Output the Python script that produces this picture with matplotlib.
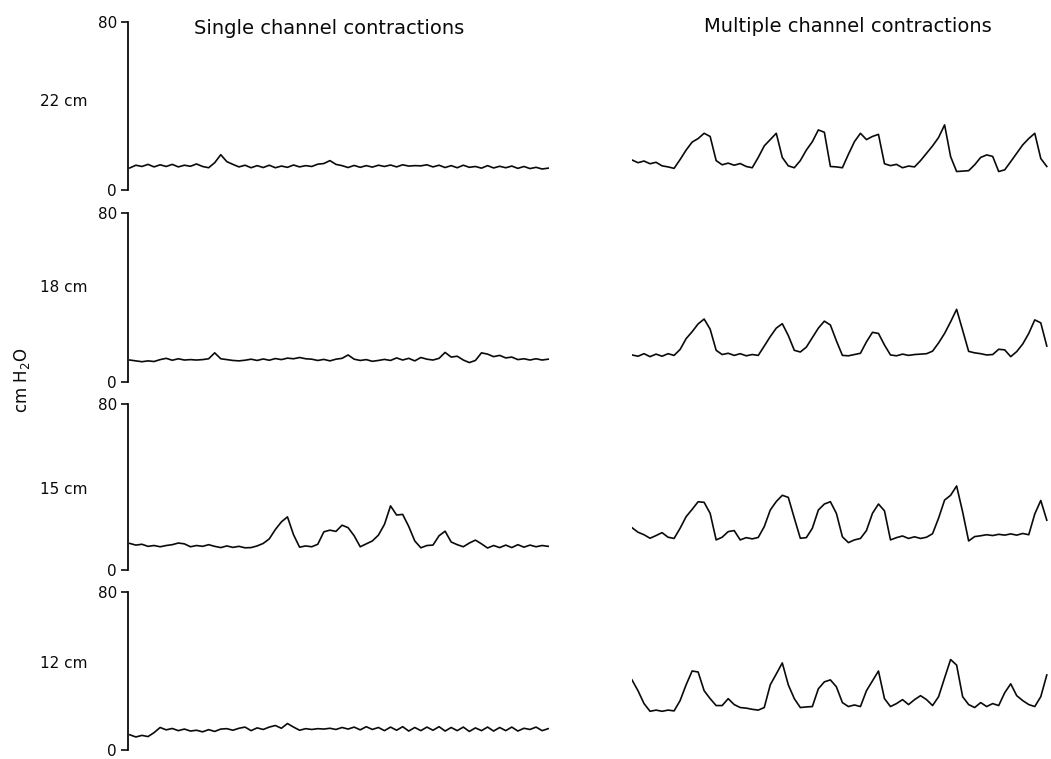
import numpy as np
import matplotlib.pyplot as plt

plt.rcParams['font.family'] = 'DejaVu Sans'
plt.rcParams['mathtext.default'] = 'regular'

# channel depth labels (top to bottom)
channels = ['22 cm', '18 cm', '15 cm', '12 cm']

# pressure traces, cm H2O, one value per sample (left: single channel contractions)
single_22 = [10.5, 11.8, 11.2, 12.2, 11.0, 12.0, 11.2, 12.2, 11.0, 11.8,
             11.3, 12.4, 11.2, 10.6, 13.0, 16.8, 13.5, 12.2, 11.0, 11.8,
             10.6, 11.6, 10.7, 11.8, 10.6, 11.4, 10.8, 11.9, 11.0, 11.6,
             11.2, 12.3, 12.6, 14.0, 12.2, 11.6, 10.7, 11.7, 10.8, 11.6,
             10.9, 11.8, 11.2, 11.9, 11.0, 12.0, 11.4, 11.6, 11.5, 12.0,
             11.0, 11.8, 10.7, 11.6, 10.6, 11.8, 10.8, 11.2, 10.4, 11.6,
             10.5, 11.3, 10.6, 11.4, 10.3, 11.2, 10.2, 10.8, 10.0, 10.4]
single_18 = [10.4, 10.0, 9.6, 10.0, 9.7, 10.6, 11.2, 10.3, 11.0, 10.4,
             10.6, 10.4, 10.6, 11.0, 13.8, 11.0, 10.6, 10.2, 10.0, 10.3,
             10.8, 10.2, 10.9, 10.3, 11.1, 10.6, 11.3, 11.0, 11.6, 11.0,
             10.8, 10.2, 10.7, 10.0, 10.8, 11.2, 12.8, 10.8, 10.2, 10.6,
             9.8, 10.2, 10.7, 10.2, 11.4, 10.4, 11.2, 10.0, 11.6, 10.8,
             10.4, 11.2, 14.0, 11.8, 12.2, 10.4, 9.2, 10.2, 13.8, 13.2,
             12.0, 12.6, 11.4, 11.8, 10.6, 11.0, 10.4, 11.0, 10.4, 10.8]
single_15 = [12.8, 12.0, 12.4, 11.4, 11.8, 11.2, 11.8, 12.2, 13.0, 12.6,
             11.2, 11.8, 11.4, 12.2, 11.4, 10.8, 11.6, 10.9, 11.4, 10.7,
             10.8, 11.6, 12.8, 15.0, 19.5, 23.2, 25.6, 17.0, 11.0, 11.6,
             11.2, 12.4, 18.4, 19.2, 18.6, 21.6, 20.4, 16.5, 11.2, 12.6,
             14.0, 16.8, 22.0, 30.9, 26.5, 26.8, 21.0, 14.0, 10.7, 11.8,
             12.0, 16.5, 18.7, 13.5, 12.2, 11.2, 13.0, 14.4, 12.6, 10.6,
             11.8, 10.8, 12.0, 10.8, 12.2, 11.0, 12.0, 11.2, 11.8, 11.4]
single_12 = [7.7, 6.6, 7.4, 6.8, 8.8, 11.4, 10.2, 10.9, 9.8, 10.6,
             9.6, 10.0, 9.2, 10.3, 9.4, 10.6, 10.8, 10.0, 11.0, 11.6,
             9.8, 11.2, 10.4, 11.6, 12.4, 11.0, 13.4, 11.6, 10.0, 10.8,
             10.4, 10.8, 10.6, 11.0, 10.4, 11.4, 10.6, 11.6, 10.2, 11.8,
             10.4, 11.4, 9.8, 11.6, 10.0, 11.8, 9.6, 11.4, 9.8, 11.6,
             10.0, 11.8, 9.6, 11.4, 9.8, 11.6, 9.4, 11.2, 9.8, 11.6,
             9.6, 11.4, 9.8, 11.6, 9.6, 11.0, 10.4, 11.6, 9.8, 10.8]

# right: multiple channel contractions
multi_22 = [14.3, 13.0, 13.8, 12.5, 13.2, 11.5, 11.0, 10.3, 14.5, 19.0,
            22.8, 24.5, 27.0, 25.5, 14.0, 12.0, 12.8, 11.8, 12.6, 11.2,
            10.6, 15.5, 21.0, 24.0, 27.0, 15.5, 11.5, 10.6, 14.0, 19.0,
            23.0, 28.6, 27.5, 11.2, 11.0, 10.6, 17.0, 23.0, 27.0, 24.0,
            25.5, 26.5, 12.5, 11.6, 12.2, 10.6, 11.4, 11.0, 14.0, 17.5,
            21.0, 25.0, 31.0, 15.9, 8.8, 9.0, 9.2, 12.0, 15.5, 16.7,
            16.0, 8.8, 9.6, 13.5, 17.5, 21.5, 24.5, 27.0, 15.0, 11.2]
multi_18 = [12.8, 12.2, 13.4, 12.0, 13.2, 12.2, 13.4, 12.6, 15.4, 20.5,
            23.8, 27.5, 29.8, 25.0, 15.0, 13.0, 13.6, 12.6, 13.4, 12.4,
            13.0, 12.6, 17.0, 21.5, 25.5, 27.6, 22.0, 15.0, 14.2, 16.5,
            21.0, 25.5, 28.8, 27.0, 19.5, 12.6, 12.4, 13.0, 13.6, 19.0,
            23.5, 23.0, 17.5, 12.8, 12.4, 13.2, 12.6, 13.0, 13.2, 13.4,
            14.6, 18.5, 23.0, 28.5, 34.4, 24.5, 14.5, 13.8, 13.4, 12.8,
            13.0, 15.5, 15.2, 12.0, 14.4, 18.0, 23.0, 29.4, 28.0, 17.0]
multi_15 = [20.4, 18.2, 17.0, 15.3, 16.6, 18.0, 15.8, 15.2, 20.1, 25.7,
            29.2, 32.9, 32.6, 27.3, 14.5, 15.8, 18.5, 19.0, 14.5, 15.6,
            15.0, 15.7, 20.9, 28.9, 33.0, 36.0, 35.0, 25.0, 15.3, 15.6,
            20.1, 28.9, 31.8, 32.9, 27.3, 16.0, 13.2, 14.5, 15.2, 19.0,
            27.3, 31.8, 28.5, 14.5, 15.6, 16.4, 15.2, 16.0, 15.2, 15.8,
            17.5, 25.0, 33.7, 36.0, 40.5, 28.0, 14.0, 16.1, 16.5, 17.0,
            16.6, 17.2, 16.8, 17.4, 16.8, 17.6, 17.0, 27.0, 33.5, 24.0]
multi_12 = [35.5, 30.0, 23.5, 19.6, 20.2, 19.6, 20.2, 19.8, 25.0, 33.0,
            40.0, 39.5, 30.0, 26.0, 22.5, 22.5, 26.0, 23.0, 21.5, 21.2,
            20.6, 20.2, 21.5, 33.0, 38.5, 44.1, 33.0, 26.0, 21.5, 21.8,
            22.0, 31.0, 34.5, 35.5, 32.0, 24.0, 22.0, 22.8, 22.0, 30.0,
            35.0, 40.0, 26.0, 22.0, 23.5, 25.5, 23.0, 25.5, 27.5, 25.5,
            22.5, 27.0, 36.5, 45.8, 43.0, 27.0, 23.0, 21.5, 24.0, 22.0,
            23.5, 22.5, 29.0, 33.5, 27.5, 25.0, 23.0, 22.0, 27.0, 38.0]

single = [single_22, single_18, single_15, single_12]
multi = [multi_22, multi_18, multi_15, multi_12]

W, H = 1051, 759
fig = plt.figure(figsize=(W / 100, H / 100), dpi=100)

# (top, bottom) pixel rows of each 0-80 scale
rows = [(22, 190), (213, 382), (404, 570), (592, 750)]
label_y = [102, 288, 490, 664]
col = '#0a0a0a'

for i, (top, bot) in enumerate(rows):
    y0 = 1 - bot / H
    h = (bot - top) / H
    axL = fig.add_axes([128 / W, y0, (550 - 128) / W, h])
    axL.plot(np.arange(len(single[i])), single[i], color=col, lw=1.2)
    axL.set_xlim(-0.3, 69.3)
    axL.set_ylim(0, 80)
    axL.set_yticks([0, 80])
    axL.set_xticks([])
    for s in ['top', 'right', 'bottom']:
        axL.spines[s].set_visible(False)
    axL.spines['left'].set_linewidth(1.3)
    axL.spines['left'].set_color(col)
    axL.tick_params(axis='y', length=5, width=1.2, pad=3, labelsize=11, colors=col)
    axL.patch.set_alpha(0)

    axR = fig.add_axes([632 / W, y0, (1051 - 632) / W, h])
    axR.plot(np.arange(len(multi[i])), multi[i], color=col, lw=1.2)
    axR.set_xlim(0, 69.7)
    axR.set_ylim(0, 80)
    axR.axis('off')

    fig.text(40 / W, 1 - label_y[i] / H, channels[i], ha='left', va='center',
             fontsize=11, color=col)

fig.text(329 / W, 1 - 28 / H, 'Single channel contractions', ha='center',
         va='center', fontsize=14, color=col)
fig.text(848 / W, 1 - 26 / H, 'Multiple channel contractions', ha='center',
         va='center', fontsize=14, color=col)
fig.text(22 / W, 1 - 380 / H, 'cm H$_2$O', rotation=90, ha='center',
         va='center', fontsize=12, color=col)

fig.savefig('out.png', dpi=100)
